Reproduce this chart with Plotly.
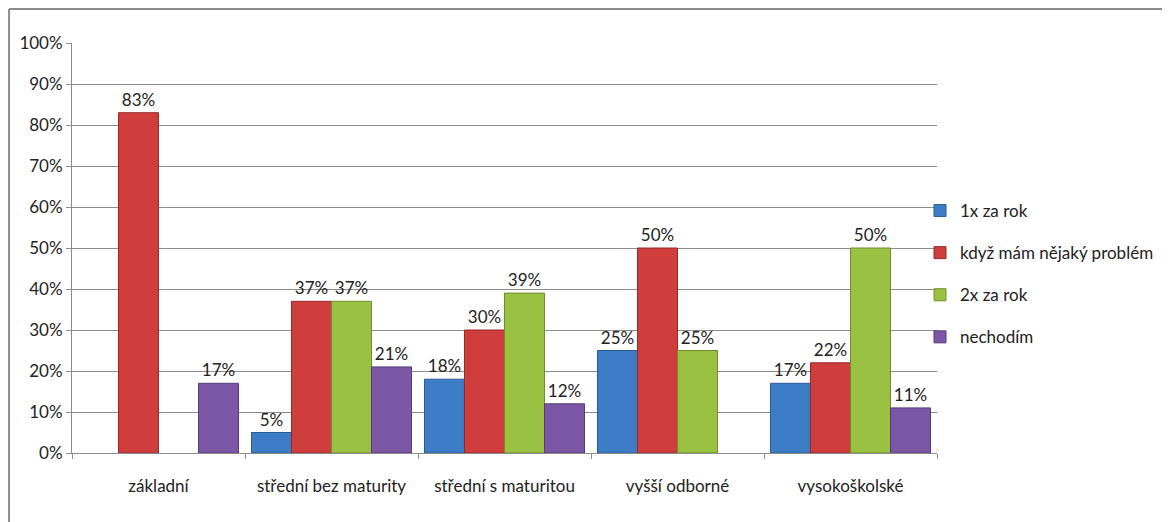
import plotly.graph_objects as go

categories = ["základní", "střední bez maturity", "střední s maturitou", "vyšší odborné", "vysokoškolské"]
series_names = ["1x za rok", "když mám nějaký problém", "2x za rok", "nechodím"]
v_1x = [None, 5, 18, 25, 17]
v_problem = [83, 37, 30, 50, 22]
v_2x = [None, 37, 39, 25, 50]
v_nechodim = [17, 21, 12, None, 11]
y_ticks = [0, 10, 20, 30, 40, 50, 60, 70, 80, 90, 100]
y_tick_labels = [f"{t}%" for t in y_ticks]

colors = ["#3d7dc8", "#cf3d3d", "#9bc143", "#7b57a6"]
edges = ["#2a5a94", "#962a2a", "#6f8d2c", "#563b7a"]
series = [v_1x, v_problem, v_2x, v_nechodim]

FONT = "Lato, sans-serif"
FS = 17

fig = go.Figure()
for i, (name, vals) in enumerate(zip(series_names, series)):
    fig.add_trace(go.Bar(
        x=categories, y=vals, name=name, legendgroup=name,
        marker=dict(color=colors[i], line=dict(color=edges[i], width=1)),
        text=[f"{v}%" if v is not None else "" for v in vals],
        textposition="outside", cliponaxis=False,
        textfont=dict(family=FONT, size=FS, color="#222222"),
    ))

# page body has an 8px margin; figure coordinates = page coordinates - 8
OFF = 8
W, H = 1170 - OFF, 522 - OFF
L, R, T, B = 72 - OFF, 938 - OFF, 43 - OFF, 453 - OFF
def px(x): return (x - OFF - L) / (R - L)
def py(y): return (B - (y - OFF)) / (B - T)

fig.update_layout(
    width=W, height=H,
    margin=dict(l=L, r=W - R, t=T, b=H - B),
    paper_bgcolor="white", plot_bgcolor="white",
    barmode="group", bargap=0.075, bargroupgap=0,
    font=dict(family=FONT, size=FS, color="#222222"),
    legend=dict(x=px(920), y=py(274), xanchor="left", yanchor="middle",
                font=dict(family=FONT, size=FS, color="#222222"),
                tracegroupgap=17, itemwidth=30, bgcolor="rgba(0,0,0,0)"),
    xaxis=dict(showline=True, linecolor="#8c8c8c", linewidth=1,
               ticks="outside", tickson="boundaries", ticklen=5, tickcolor="#8c8c8c",
               ticklabelstandoff=18,
               showgrid=False, tickfont=dict(family=FONT, size=FS)),
    yaxis=dict(range=[0, 100], tickmode="array", tickvals=y_ticks, ticktext=y_tick_labels,
               showline=True, linecolor="#8c8c8c", linewidth=1,
               ticks="outside", ticklen=5, tickcolor="#8c8c8c",
               showgrid=True, gridcolor="#8c8c8c", gridwidth=1,
               zeroline=False, tickfont=dict(family=FONT, size=FS)),
    showlegend=True,
)
# chart frame: only top and left edges are visible in the reference
fig.add_shape(type="line", xref="paper", yref="paper",
              x0=px(9), x1=px(1172), y0=py(9), y1=py(9),
              line=dict(color="#8a8a8a", width=2), layer="below")
fig.add_shape(type="line", xref="paper", yref="paper",
              x0=px(9), x1=px(9), y0=py(9), y1=py(525),
              line=dict(color="#8a8a8a", width=2), layer="below")

fig.write_html("out.html")
